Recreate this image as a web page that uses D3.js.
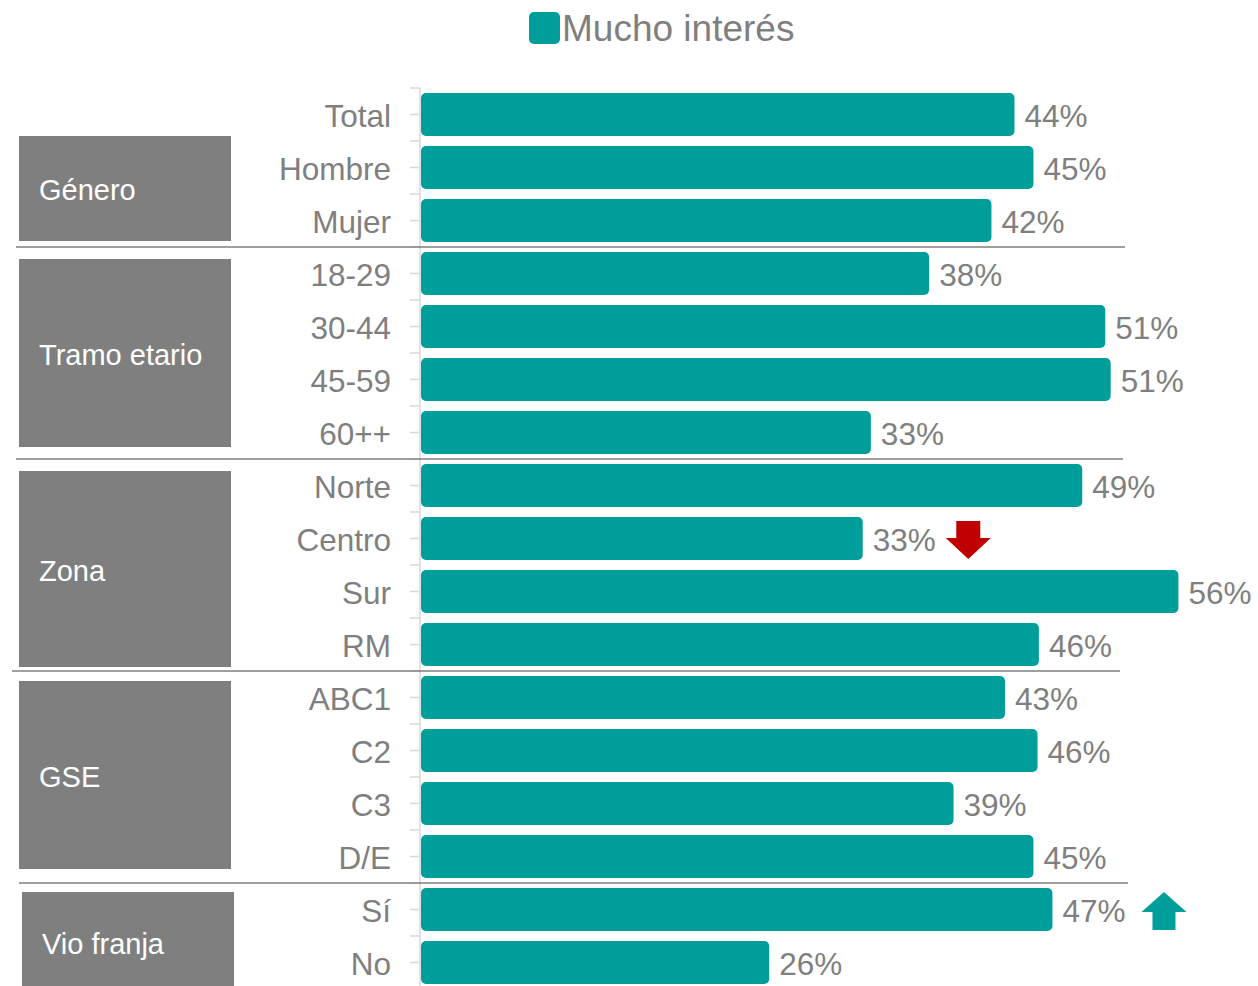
<!DOCTYPE html>
<html><head><meta charset="utf-8">
<script src="https://cdn.jsdelivr.net/npm/d3@7"></script>
<style>body{margin:0;background:#fff}svg{display:block}text{font-family:"Liberation Sans",Arial,sans-serif}</style>
</head><body><svg id="c" width="1258" height="986"></svg>
<script>
const categories = ["Total","Hombre","Mujer","18-29","30-44","45-59","60++","Norte","Centro","Sur","RM","ABC1","C2","C3","D/E","Sí","No"];
const values = [43.8,45.2,42.1,37.5,50.5,50.9,33.2,48.8,32.6,55.9,45.6,43.1,45.5,39.3,45.2,46.6,25.7];
const labels = ["44%","45%","42%","38%","51%","51%","33%","49%","33%","56%","46%","43%","46%","39%","45%","47%","26%"];
const groups = ["Género","Tramo etario","Zona","GSE","Vio franja"];
const groupFirst = ["Hombre","18-29","Norte","ABC1","Sí"];
const groupLast = ["Mujer","60++","RM","D/E","No"];
const seriesName = "Mucho interés";
const arrowCats = ["Centro","Sí"];
const arrowDirs = ["down","up"];

(function(){
const TEAL = "#009E9A", GREY = "#7f7f7f", RED = "#C00000";
const svg = d3.select("#c");
const step = 53, topY = 88;
const y = d3.scaleBand().domain(categories).range([topY, topY + step*categories.length])
  .paddingInner(10/53).paddingOuter(5/53);
const x = d3.scaleLinear().domain([0,100]).range([421, 421+1355]);
const pad = (y.step()-y.bandwidth())/2;

// legend
svg.append("rect").attr("x",529).attr("y",12).attr("width",31).attr("height",32).attr("rx",5).attr("fill",TEAL);
svg.append("text").attr("x",562).attr("y",28).attr("dy","0.35em").attr("font-size",37).attr("fill",GREY).text(seriesName);

// axis
const ax = svg.append("g");
ax.append("line").attr("x1",420).attr("x2",420).attr("y1",topY).attr("y2",986).attr("stroke","#d9d9d9").attr("stroke-width",1.5);
categories.forEach(c=>{
  [y(c)-pad, y(c)+y.bandwidth()/2].forEach(t=>{
    ax.append("line").attr("x1",410).attr("x2",420).attr("y1",t).attr("y2",t).attr("stroke","#d9d9d9").attr("stroke-width",1.5);
  });
});

// group boxes
const boxX = [19,19,19,19,22];
const boxTops = [136,259,471,681,892];
const boxBots = [241,447,667,869,986];
const textShift = [1,2,2,2,5];
groups.forEach((g,i)=>{
  svg.append("rect").attr("x",boxX[i]).attr("y",boxTops[i]).attr("width",212).attr("height",boxBots[i]-boxTops[i]).attr("fill",GREY);
  svg.append("text").attr("x",boxX[i]+20).attr("y",(boxTops[i]+boxBots[i])/2+textShift[i]).attr("dy","0.35em")
    .attr("font-size",29).attr("fill","#fff").text(g);
});

// separators
const sepL = [16,16,12,19], sepR = [1125,1123,1120,1128];
groupLast.slice(0,4).forEach((c,i)=>{
  const yy = y(c)+y.bandwidth()+pad;
  svg.append("line").attr("x1",sepL[i]).attr("x2",sepR[i]).attr("y1",yy).attr("y2",yy).attr("stroke",GREY).attr("stroke-width",1.5);
});

// category labels
svg.selectAll(".cl").data(categories).join("text").attr("class","cl")
  .attr("x",391).attr("y",d=>y(d)+y.bandwidth()/2+1).attr("dy","0.35em").attr("text-anchor","end")
  .attr("font-size",31.5).attr("fill",GREY).text(d=>d);

// bars
const data = categories.map((c,i)=>({c, v:values[i], l:labels[i]}));
svg.selectAll(".bar").data(data).join("rect").attr("class","bar")
  .attr("x",x(0)).attr("y",d=>y(d.c)).attr("height",y.bandwidth()).attr("width",d=>x(d.v)-x(0))
  .attr("rx",5).attr("fill",TEAL);
const vl = svg.selectAll(".vl").data(data).join("text").attr("class","vl")
  .attr("x",d=>x(d.v)+10).attr("y",d=>y(d.c)+y.bandwidth()/2+1).attr("dy","0.35em")
  .attr("font-size",31.5).attr("fill",GREY).text(d=>d.l);

// arrows
const gaps = [10,16];
arrowCats.forEach((c,i)=>{
  const node = vl.filter(d=>d.c===c).node();
  const x0 = x(values[categories.indexOf(c)])+10+node.getComputedTextLength()+gaps[i];
  const cy = y(c)+y.bandwidth()/2+1.5;
  let p;
  if(arrowDirs[i]==="down"){
    p = [[x0+10.5,cy-19],[x0+34.5,cy-19],[x0+34.5,cy-2],[x0+45,cy-2],[x0+22.5,cy+19],[x0,cy-2],[x0+10.5,cy-2]];
  } else {
    p = [[x0+22.5,cy-19],[x0+45,cy+1],[x0+34,cy+1],[x0+34,cy+19],[x0+11,cy+19],[x0+11,cy+1],[x0,cy+1]];
  }
  svg.append("path").attr("d","M"+p.map(q=>q.join(",")).join("L")+"Z").attr("fill",arrowDirs[i]==="down"?RED:TEAL);
});
})();
</script></body></html>
